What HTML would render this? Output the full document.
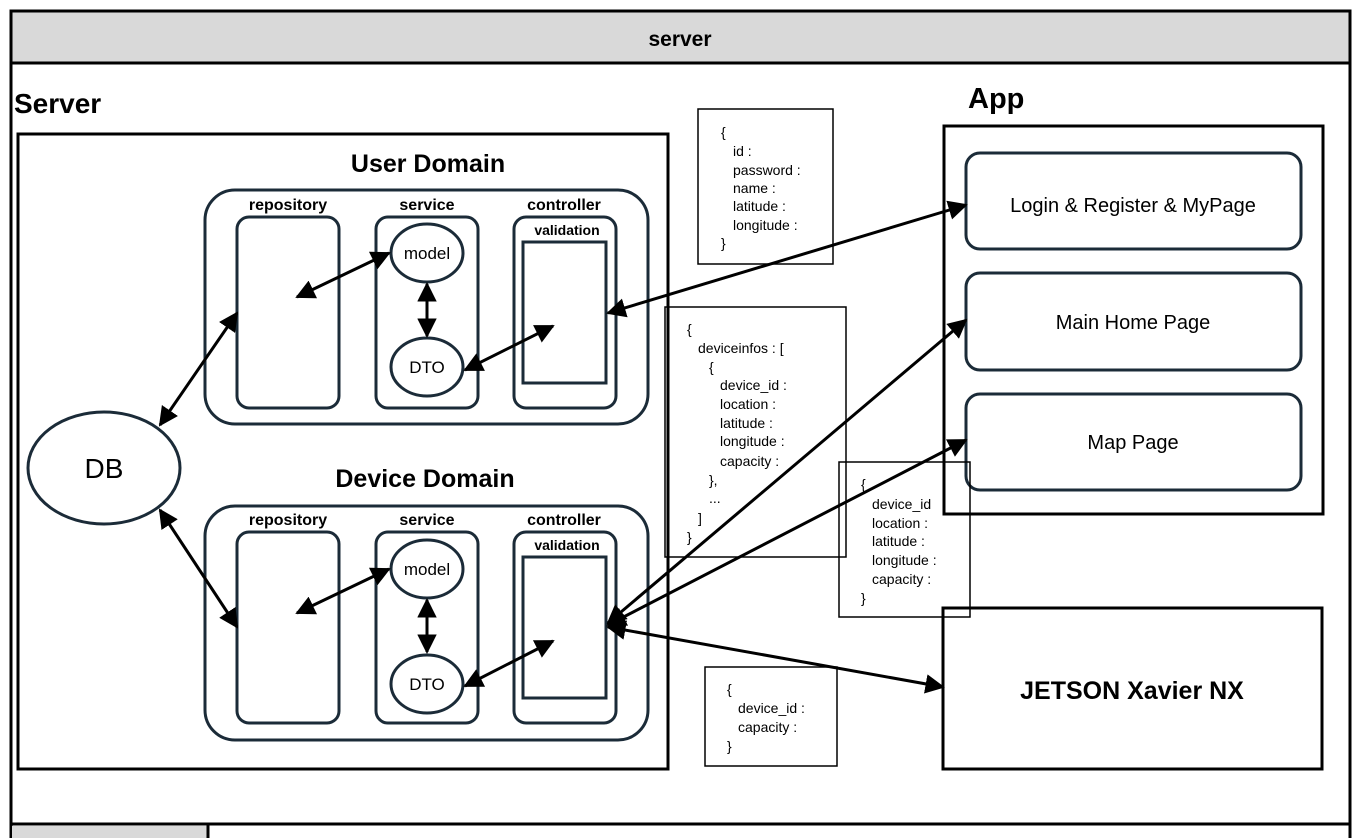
<!DOCTYPE html>
<html><head><meta charset="utf-8"><style>
html,body{margin:0;padding:0;background:#fff;}
svg{display:block;}
text{font-family:"Liberation Sans","Noto Sans CJK KR",sans-serif;fill:#000;}
.b{font-weight:bold;}
</style></head><body>
<svg width="1360" height="838" viewBox="0 0 1360 838" xmlns="http://www.w3.org/2000/svg">
<defs>
<marker id="a" viewBox="0 0 10 10" refX="9" refY="5" markerWidth="6.5" markerHeight="6.5" orient="auto-start-reverse" markerUnits="strokeWidth"><path d="M0,0 L10,5 L0,10 z" fill="#000"/></marker>
</defs>
<rect x="0" y="0" width="1360" height="838" fill="#fff"/>
<rect x="11" y="11" width="1339" height="840" fill="#fff" stroke="#000" stroke-width="3"/>
<rect x="11" y="11" width="1339" height="52" fill="#d9d9d9" stroke="#000" stroke-width="3"/>
<text x="680" y="46" font-size="21" text-anchor="middle" class="b">server</text>
<line x1="11" y1="824" x2="1350" y2="824" stroke="#000" stroke-width="3"/>
<rect x="12" y="826" width="196" height="14" fill="#d9d9d9"/>
<line x1="208" y1="824" x2="208" y2="838" stroke="#000" stroke-width="3"/>

<text x="14" y="113" font-size="28" class="b">Server</text>
<rect x="18" y="134" width="650" height="635" fill="none" stroke="#000" stroke-width="3"/>

<text x="428" y="172" font-size="25" text-anchor="middle" class="b">User Domain</text>
<g stroke="#1b2b38" stroke-width="3" fill="none">
<rect x="205" y="190" width="443" height="234" rx="30"/>
<rect x="237" y="217" width="102" height="191" rx="12"/>
<rect x="376" y="217" width="102" height="191" rx="12"/>
<rect x="514" y="217" width="102" height="191" rx="12"/>
<rect x="523" y="242" width="83" height="141"/>
<ellipse cx="427" cy="253" rx="36" ry="29"/>
<ellipse cx="427" cy="367" rx="36" ry="29"/>
</g>
<text x="288" y="210" font-size="16" text-anchor="middle" class="b">repository</text>
<text x="427" y="210" font-size="16" text-anchor="middle" class="b">service</text>
<text x="564" y="210" font-size="16" text-anchor="middle" class="b">controller</text>
<text x="567" y="235" font-size="14" text-anchor="middle" class="b">validation</text>
<text x="427" y="259" font-size="17" text-anchor="middle">model</text>
<text x="427" y="373" font-size="17" text-anchor="middle">DTO</text>

<text x="425" y="487" font-size="25" text-anchor="middle" class="b">Device Domain</text>
<g stroke="#1b2b38" stroke-width="3" fill="none">
<rect x="205" y="506" width="443" height="234" rx="30"/>
<rect x="237" y="532" width="102" height="191" rx="12"/>
<rect x="376" y="532" width="102" height="191" rx="12"/>
<rect x="514" y="532" width="102" height="191" rx="12"/>
<rect x="523" y="557" width="83" height="141"/>
<ellipse cx="427" cy="569" rx="36" ry="29"/>
<ellipse cx="427" cy="684" rx="36" ry="29"/>
</g>
<text x="288" y="525" font-size="16" text-anchor="middle" class="b">repository</text>
<text x="427" y="525" font-size="16" text-anchor="middle" class="b">service</text>
<text x="564" y="525" font-size="16" text-anchor="middle" class="b">controller</text>
<text x="567" y="550" font-size="14" text-anchor="middle" class="b">validation</text>
<text x="427" y="575" font-size="17" text-anchor="middle">model</text>
<text x="427" y="690" font-size="17" text-anchor="middle">DTO</text>

<ellipse cx="104" cy="468" rx="76" ry="56" fill="none" stroke="#1b2b38" stroke-width="3"/>
<text x="104" y="478" font-size="28" text-anchor="middle">DB</text>

<text x="968" y="108" font-size="29" class="b">App</text>
<rect x="944" y="126" width="379" height="388" fill="none" stroke="#000" stroke-width="3"/>
<g stroke="#1b2b38" stroke-width="3" fill="none">
<rect x="966" y="153" width="335" height="96" rx="14"/>
<rect x="966" y="273" width="335" height="97" rx="14"/>
<rect x="966" y="394" width="335" height="96" rx="14"/>
</g>
<text x="1133" y="212" font-size="20" text-anchor="middle">Login &amp; Register &amp; MyPage</text>
<text x="1133" y="329" font-size="20" text-anchor="middle">Main Home Page</text>
<text x="1133" y="449" font-size="20" text-anchor="middle">Map Page</text>

<rect x="943" y="608" width="379" height="161" fill="none" stroke="#000" stroke-width="3"/>
<text x="1132" y="699" font-size="25" text-anchor="middle" class="b">JETSON Xavier NX</text>

<g stroke="#000" stroke-width="1.5" fill="none">
<rect x="698" y="109" width="135" height="155"/>
<rect x="665" y="307" width="181" height="250"/>
<rect x="839" y="462" width="131" height="155"/>
<rect x="705" y="667" width="132" height="99"/>
</g>
<g font-size="14">
<text x="721" y="137">{</text>
<text x="733" y="156">id :</text>
<text x="733" y="175">password :</text>
<text x="733" y="193">name :</text>
<text x="733" y="211">latitude :</text>
<text x="733" y="230">longitude :</text>
<text x="721" y="248">}</text>

<text x="687" y="334">{</text>
<text x="698" y="353">deviceinfos : [</text>
<text x="709" y="372">{</text>
<text x="720" y="390">device_id :</text>
<text x="720" y="409">location :</text>
<text x="720" y="428">latitude :</text>
<text x="720" y="446">longitude :</text>
<text x="720" y="466">capacity :</text>
<text x="709" y="485">},</text>
<text x="709" y="503">...</text>
<text x="698" y="523">]</text>
<text x="687" y="542">}</text>

<text x="861" y="489">{</text>
<text x="872" y="509">device_id</text>
<text x="872" y="528">location :</text>
<text x="872" y="546">latitude :</text>
<text x="872" y="565">longitude :</text>
<text x="872" y="584">capacity :</text>
<text x="861" y="603">}</text>

<text x="727" y="694">{</text>
<text x="738" y="713">device_id :</text>
<text x="738" y="732">capacity :</text>
<text x="727" y="751">}</text>
</g>

<g stroke="#000" stroke-width="3" fill="none" marker-start="url(#a)" marker-end="url(#a)">
<line x1="297" y1="297" x2="389" y2="253"/>
<line x1="427" y1="284" x2="427" y2="336"/>
<line x1="465" y1="370" x2="553" y2="326"/>
<line x1="297" y1="613" x2="389" y2="569"/>
<line x1="427" y1="600" x2="427" y2="652"/>
<line x1="465" y1="686" x2="553" y2="641"/>
<line x1="160" y1="425" x2="237" y2="313"/>
<line x1="160" y1="510" x2="237" y2="627"/>
<line x1="608" y1="313" x2="966" y2="205"/>
<line x1="608" y1="623" x2="966" y2="320"/>
<line x1="608" y1="625" x2="966" y2="440"/>
<line x1="608" y1="627" x2="943" y2="687"/>
</g>
</svg>
</body></html>
